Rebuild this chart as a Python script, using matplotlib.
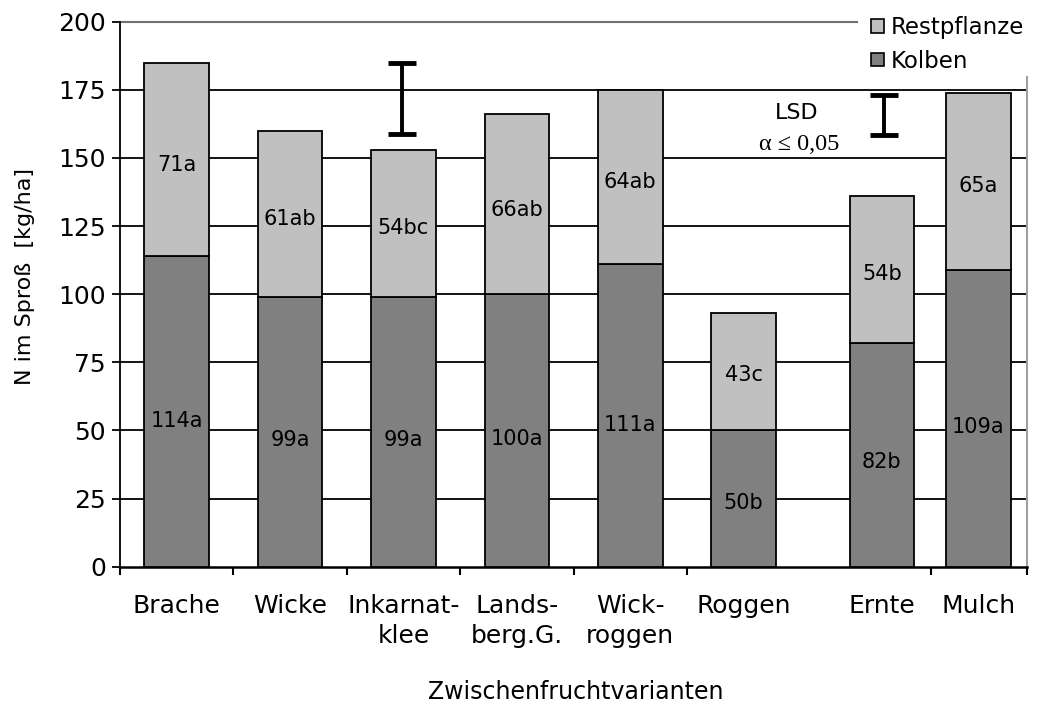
import matplotlib
matplotlib.use("Agg")
import matplotlib.pyplot as plt
from matplotlib.patches import Patch
import numpy as np

# ── data ─────────────────────────────────────────────────────────────
varianten = ["Brache", "Wicke", "Inkarnat-\nklee", "Lands-\nberg.G.",
             "Wick-\nroggen", "Roggen", "Ernte", "Mulch"]
kolben = [114, 99, 99, 100, 111, 50, 82, 109]
kolben_sig = ["a", "a", "a", "a", "a", "b", "b", "a"]
restpflanze = [71, 61, 54, 66, 64, 43, 54, 65]
rest_sig = ["a", "ab", "bc", "ab", "ab", "c", "b", "a"]

# LSD bars (alpha <= 0.05): lower end, length
lsd_low = [158.7, 158.4]
lsd_len = [26.0, 14.6]

# ── layout ───────────────────────────────────────────────────────────
x_pos = [0.5, 1.5, 2.5, 3.5, 4.5, 5.5, 6.72, 7.57]
lsd_x = [2.49, 6.74]
x_ticks = [0, 1, 2, 3, 4, 5, 7.15, 8]
bar_w = 0.57

REST = "#c0c0c0"
KOLB = "#808080"

plt.rcParams.update({
    "font.family": ["DejaVu Sans"],
    "font.size": 16,
})

fig = plt.figure(figsize=(10.37, 7.08), dpi=100)
ax = fig.add_axes([0.1157, 0.1996, 0.8747, 0.7698])

ax.set_xlim(0, 8)
ax.set_ylim(0, 200)

# grid lines
for yv in range(25, 200, 25):
    ax.axhline(yv, color="black", lw=1.3, zorder=1)
ax.plot([0, 6.5], [200, 200], color="#707070", lw=1.5, zorder=1, clip_on=False)

# stacked bars
ax.bar(x_pos, kolben, width=bar_w, color=KOLB, edgecolor="black", lw=1.3, zorder=3)
ax.bar(x_pos, restpflanze, width=bar_w, bottom=kolben, color=REST,
       edgecolor="black", lw=1.3, zorder=3)

for x, k, r, ks, rs in zip(x_pos, kolben, restpflanze, kolben_sig, rest_sig):
    ax.text(x, k * 0.47, f"{k}{ks}", ha="center", va="center",
            fontsize=15, zorder=5)
    ax.text(x, k + r * 0.47, f"{r}{rs}", ha="center", va="center",
            fontsize=15, zorder=5)

# LSD markers
for x, lo, ln in zip(lsd_x, lsd_low, lsd_len):
    ax.errorbar(x, lo + ln / 2, yerr=ln / 2, fmt="none", ecolor="black",
                elinewidth=2.8, capsize=10, capthick=3.5, zorder=6)
ax.text(5.97, 166.5, "LSD", ha="center", va="center", fontsize=16)
ax.text(5.99, 155.0, "α ≤ 0,05", ha="center", va="center", fontsize=17.5,
        family=["Liberation Serif", "DejaVu Serif"])

# spines
ax.spines["top"].set_visible(False)
ax.spines["right"].set_visible(False)
ax.spines["left"].set_linewidth(1.3)
ax.spines["bottom"].set_linewidth(1.8)
ax.plot([8, 8], [0, 179.7], color="#a0a0a0", lw=1.5, clip_on=False, zorder=2)

# ticks
ax.set_yticks(range(0, 201, 25))
ax.tick_params(axis="y", direction="out", length=6, width=1.3, pad=4,
               labelsize=18)
ax.set_xticks(x_ticks)
ax.set_xticklabels([])
ax.tick_params(axis="x", which="major", direction="out", length=6, width=1.5)
ax.set_xticks(x_pos, minor=True)
ax.set_xticklabels(varianten, minor=True, fontsize=18, linespacing=1.3,
                   va="top", ha="center")
ax.tick_params(axis="x", which="minor", length=0, pad=20)

ax.set_ylabel("N im Sproß  [kg/ha]", fontsize=16)
ax.yaxis.set_label_coords(-0.094, 0.532)
ax.set_xlabel("Zwischenfruchtvarianten", fontsize=17)
ax.xaxis.set_label_coords(0.502, -0.207)

# legend
handles = [Patch(facecolor=REST, edgecolor="black", lw=1.2, label="Restpflanze"),
           Patch(facecolor=KOLB, edgecolor="black", lw=1.2, label="Kolben")]
fig.legend(handles=handles, loc="upper left", bbox_to_anchor=(0.831, 0.99),
           frameon=False, fontsize=16.5, handlelength=0.55, handleheight=0.55,
           handletextpad=0.3, labelspacing=0.45, borderaxespad=0)

fig.savefig("out.png", dpi=100)
